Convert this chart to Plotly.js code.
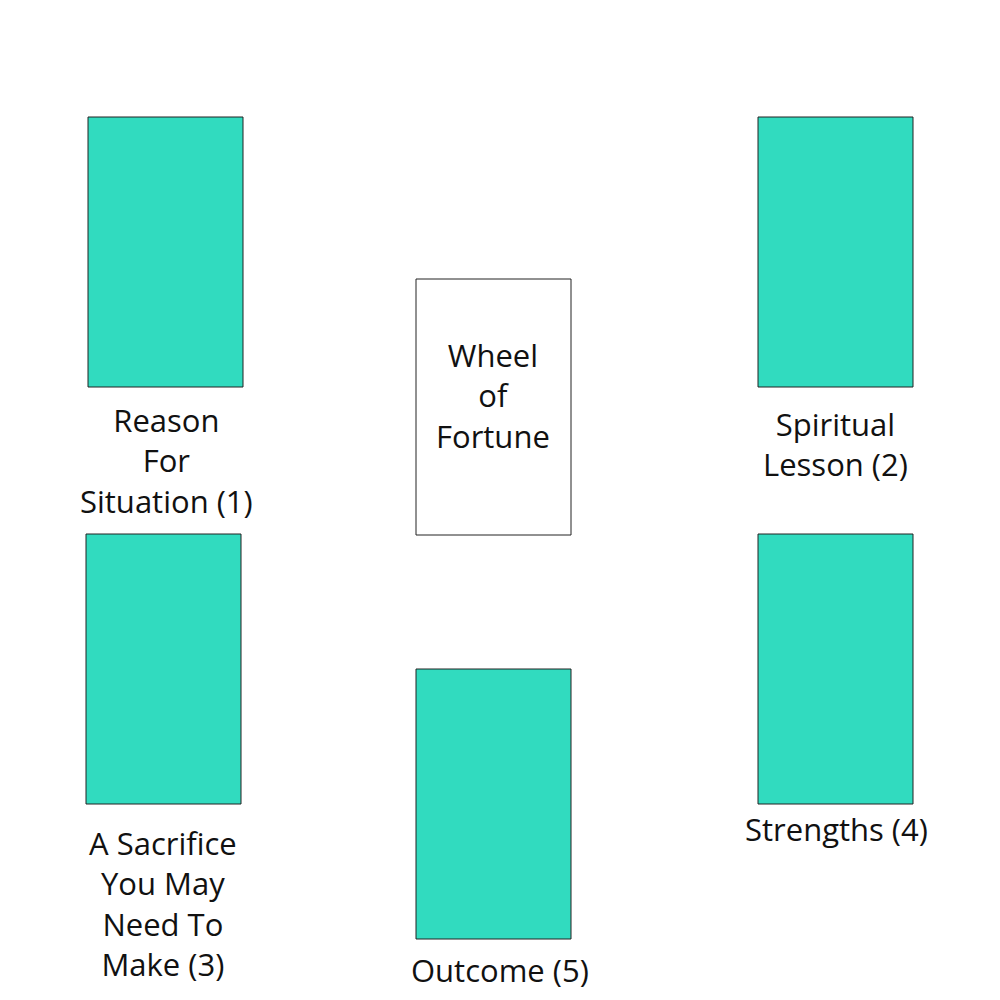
<!DOCTYPE html>
<html>
<head>
<meta charset="utf-8">
<script src="https://cdn.plot.ly/plotly-3.0.1.min.js"></script>
<style>body{margin:0}#chart{width:1000px;height:1000px}</style>
</head>
<body>
<div id="chart"></div>
<script>
// card layout (pixels in a 1000x1000 frame, y downwards)
var cardLeft   = [88, 758, 416, 86, 758, 416];
var cardTop    = [117, 117, 279, 534, 534, 669];
var cardWidth  = [155, 155, 155, 155, 155, 155];
var cardHeight = [270, 270, 256, 270, 270, 270];
var cardFilled = [true, true, false, true, true, true];
var labels = ["Reason<br>For<br>Situation (1)", "Spiritual<br>Lesson (2)", "Wheel<br>of<br>Fortune",
              "A Sacrifice<br>You May<br>Need To<br>Make (3)", "Strengths (4)", "Outcome (5)"];
var labelX = [166, 835, 493, 163, 836, 500];
var labelY = [460, 444, 395, 903, 829, 970];

var shapes = [];
cardLeft.forEach(function(x0, i){
	shapes.push({
		type: 'rect', xref: 'x', yref: 'y',
		x0: x0, x1: x0 + cardWidth[i],
		y0: cardTop[i], y1: cardTop[i] + cardHeight[i],
		fillcolor: cardFilled[i] ? '#31dbbf' : '#ffffff',
		line: {color: '#222', width: 1}
	});
});

var annotations = labels.map(function(t, i){
	return {x: labelX[i], y: labelY[i], xref: 'x', yref: 'y', text: t, showarrow: false,
		font: {family: 'Open Sans, Lato, sans-serif', size: 31, color: '#111'}, align: 'center'};
});

var layout = {
	width: 1000, height: 1000,
	margin: {l: 0, r: 0, t: 0, b: 0},
	paper_bgcolor: '#fff', plot_bgcolor: '#fff',
	xaxis: {range: [0, 1000], visible: false, fixedrange: true},
	yaxis: {range: [1000, 0], visible: false, fixedrange: true},
	shapes: shapes, annotations: annotations, showlegend: false
};

Plotly.newPlot('chart', [{x: [], y: [], type: 'scatter'}], layout, {displayModeBar: false, staticPlot: true});
</script>
</body>
</html>
